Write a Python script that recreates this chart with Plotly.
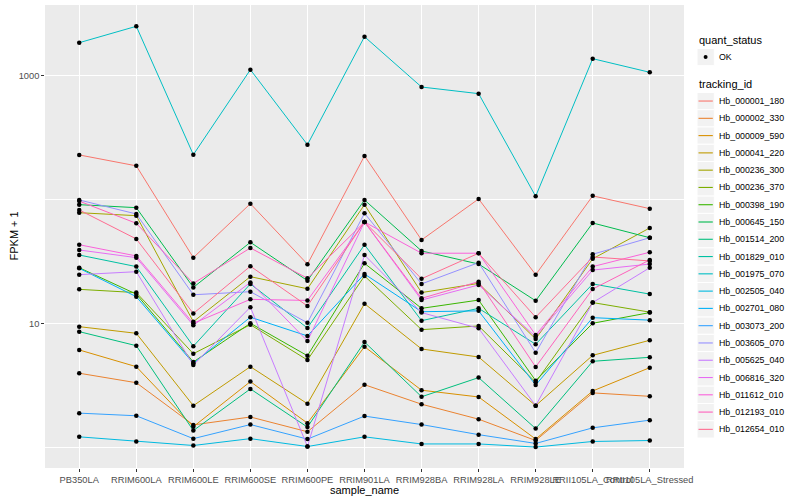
import plotly.graph_objects as go

samples = ["PB350LA", "RRIM600LA", "RRIM600LE", "RRIM600SE", "RRIM600PE", "RRIM901LA",
           "RRIM928BA", "RRIM928LA", "RRIM928LE", "RRII105LA_Control", "RRII105LA_Stressed"]

tracking_ids = ["Hb_000001_180", "Hb_000002_330", "Hb_000009_590", "Hb_000041_220", "Hb_000236_300",
                "Hb_000236_370", "Hb_000398_190", "Hb_000645_150", "Hb_001514_200", "Hb_001829_010",
                "Hb_001975_070", "Hb_002505_040", "Hb_002701_080", "Hb_003073_200", "Hb_003605_070",
                "Hb_005625_040", "Hb_006816_320", "Hb_011612_010", "Hb_012193_010", "Hb_012654_010"]

colors = ["#F8766D", "#EA8331", "#D89000", "#C09B00", "#A3A500", "#7CAE00", "#39B600", "#00BB4E",
          "#00BF7D", "#00C1A3", "#00BFC4", "#00BAE0", "#00B0F6", "#35A2FF", "#9590FF", "#C77CFF",
          "#E76BF3", "#FA62DB", "#FF62BC", "#FF6C91"]

# FPKM + 1 values, one list per tracking_id (order of samples)
hb_000001_180 = [229, 187, 33.9, 92.5, 30.0, 225, 47.1, 101, 24.7, 107, 84.3]
hb_000002_330 = [3.95, 3.31, 1.51, 1.75, 1.33, 3.19, 2.22, 1.68, 1.13, 2.74, 2.57]
hb_000009_590 = [6.09, 4.46, 1.46, 3.38, 1.56, 6.47, 2.88, 2.54, 1.16, 2.84, 4.38]
hb_000041_220 = [9.39, 8.30, 2.16, 4.46, 2.24, 14.4, 6.20, 5.34, 2.16, 5.51, 7.29]
hb_000236_300 = [78.2, 74.0, 10.3, 23.8, 19.0, 90.8, 17.7, 21.0, 7.47, 33.2, 58.9]
hb_000236_370 = [18.8, 17.7, 5.68, 9.74, 5.05, 24.1, 8.88, 9.51, 3.34, 14.7, 12.3]
hb_000398_190 = [28.1, 17.2, 4.87, 10.0, 5.47, 30.5, 13.2, 15.4, 3.44, 10.0, 12.2]
hb_000645_150 = [90.8, 85.9, 19.5, 45.1, 22.1, 99.1, 38.4, 30.1, 15.2, 64.6, 49.1]
hb_001514_200 = [8.56, 6.59, 1.36, 2.95, 1.45, 7.06, 2.55, 3.64, 1.41, 4.93, 5.31]
hb_001829_010 = [35.6, 28.7, 6.52, 20.8, 9.16, 43.1, 10.5, 13.2, 6.77, 20.8, 17.2]
hb_001975_070 = [1847, 2506, 230, 1118, 277, 2065, 810, 716, 106, 1372, 1065]
hb_002505_040 = [1.21, 1.11, 1.03, 1.17, 1.01, 1.21, 1.06, 1.06, 1.0, 1.11, 1.13]
hb_002701_080 = [27.8, 16.4, 4.75, 11.2, 7.90, 25.0, 12.4, 12.6, 3.17, 11.1, 10.6]
hb_003073_200 = [1.88, 1.79, 1.17, 1.52, 1.16, 1.78, 1.52, 1.26, 1.07, 1.43, 1.65]
hb_003605_070 = [99.1, 76.4, 17.0, 18.0, 10.1, 77.4, 20.8, 30.9, 5.79, 36.1, 49.1]
hb_005625_040 = [24.7, 26.1, 4.60, 13.5, 1.01, 35.6, 12.2, 9.11, 2.16, 14.7, 28.1]
hb_006816_320 = [39.1, 33.9, 9.63, 21.4, 7.19, 65.8, 15.4, 20.4, 7.79, 26.9, 30.1]
hb_011612_010 = [43.1, 35.0, 10.0, 15.6, 15.3, 65.8, 36.8, 36.8, 8.04, 28.7, 37.5]
hb_012193_010 = [97.0, 64.2, 21.0, 40.6, 23.1, 65.8, 15.9, 21.7, 4.44, 18.9, 32.5]
hb_012654_010 = [82.3, 48.0, 12.0, 28.9, 13.8, 65.8, 22.9, 36.8, 11.2, 34.3, 31.9]

series_values = [hb_000001_180, hb_000002_330, hb_000009_590, hb_000041_220, hb_000236_300,
                 hb_000236_370, hb_000398_190, hb_000645_150, hb_001514_200, hb_001829_010,
                 hb_001975_070, hb_002505_040, hb_002701_080, hb_003073_200, hb_003605_070,
                 hb_005625_040, hb_006816_320, hb_011612_010, hb_012193_010, hb_012654_010]

FONT = "Liberation Sans, Arial, sans-serif"
W, H = 800, 500
ML, MR, MT, MB = 45, 116, 5, 32
PW, PH = W - ML - MR, H - MT - MB

fig = go.Figure()

for tid, col, vals in zip(tracking_ids, colors, series_values):
    fig.add_trace(go.Scatter(x=samples, y=vals, mode="lines", name=tid,
                             line=dict(color=col, width=1), showlegend=False, hoverinfo="skip"))

all_x, all_y = [], []
for vals in series_values:
    all_x += samples
    all_y += vals
fig.add_trace(go.Scatter(x=all_x, y=all_y, mode="markers", name="OK",
                         marker=dict(color="black", size=4.5), showlegend=False, hoverinfo="skip"))

def xp(px):
    return (px - ML) / PW

def yp(py):
    return (H - MB - py) / PH

shapes, annotations = [], []

# axis titles
annotations.append(dict(text="sample_name", x=xp(364.5), y=yp(490), xref="paper", yref="paper",
                        xanchor="center", yanchor="middle", showarrow=False,
                        font=dict(size=11, color="black", family=FONT)))
annotations.append(dict(text="FPKM + 1", x=xp(13), y=yp(236.5), xref="paper", yref="paper",
                        xanchor="center", yanchor="middle", showarrow=False, textangle=-90,
                        font=dict(size=11, color="black", family=FONT)))

# legend: quant_status
annotations.append(dict(text="quant_status", x=xp(697), y=yp(40), xref="paper", yref="paper",
                        xanchor="left", yanchor="middle", showarrow=False,
                        font=dict(size=11, color="black", family=FONT)))
key_top = 48.4
shapes.append(dict(type="rect", xref="paper", yref="paper", x0=xp(697), x1=xp(714.3),
                   y0=yp(key_top), y1=yp(key_top + 17.28), fillcolor="#F2F2F2",
                   line=dict(color="white", width=1), layer="above"))
shapes.append(dict(type="circle", xref="paper", yref="paper", x0=xp(703.6), x1=xp(707.6),
                   y0=yp(key_top + 8.64 - 2.0), y1=yp(key_top + 8.64 + 2.0), fillcolor="black",
                   line=dict(width=0), layer="above"))
annotations.append(dict(text="OK", x=xp(717), y=yp(key_top + 8.64), xref="paper", yref="paper",
                        xanchor="left", yanchor="middle", showarrow=False,
                        font=dict(size=8.8, color="black", family=FONT)))

# legend: tracking_id
annotations.append(dict(text="tracking_id", x=xp(697), y=yp(84), xref="paper", yref="paper",
                        xanchor="left", yanchor="middle", showarrow=False,
                        font=dict(size=11, color="black", family=FONT)))
top0 = 92.4
for i, (tid, col) in enumerate(zip(tracking_ids, colors)):
    t = top0 + i * 17.28
    c = t + 8.64
    shapes.append(dict(type="rect", xref="paper", yref="paper", x0=xp(697), x1=xp(714.3),
                       y0=yp(t), y1=yp(t + 17.28), fillcolor="#F2F2F2",
                       line=dict(color="white", width=1), layer="above"))
    shapes.append(dict(type="line", xref="paper", yref="paper", x0=xp(698.5), x1=xp(712.8),
                       y0=yp(c), y1=yp(c), line=dict(color=col, width=1.1), layer="above"))
    annotations.append(dict(text=tid, x=xp(717), y=yp(c), xref="paper", yref="paper",
                            xanchor="left", yanchor="middle", showarrow=False,
                            font=dict(size=8.8, color="black", family=FONT)))

fig.update_layout(
    width=W, height=H,
    margin=dict(l=ML, r=MR, t=MT, b=MB, pad=0),
    paper_bgcolor="white",
    plot_bgcolor="#EBEBEB",
    font=dict(family=FONT, color="black"),
    showlegend=False,
    shapes=shapes,
    annotations=annotations,
    xaxis=dict(
        type="category", categoryorder="array", categoryarray=samples,
        range=[-0.6, 10.6], showgrid=True, gridcolor="white", gridwidth=1.07,
        zeroline=False, showline=False, ticks="outside", ticklen=2.75, tickwidth=1,
        tickcolor="#333333", tickangle=0, tickfont=dict(size=9.3, color="#4D4D4D", family=FONT),
        automargin=False,
    ),
    yaxis=dict(
        type="log", range=[-0.169, 3.571],
        tickvals=[10, 1000], ticktext=["10", "1000"],
        showgrid=True, gridcolor="white", gridwidth=1.07,
        minor=dict(tickvals=[1, 100], showgrid=True, gridcolor="white", gridwidth=0.53, ticks=""),
        zeroline=False, showline=False, ticks="outside", ticklen=2.75, tickwidth=1,
        tickcolor="#333333", tickfont=dict(size=9.3, color="#4D4D4D", family=FONT),
        automargin=False,
    ),
)

fig.write_html("out.html", config={"displayModeBar": False},
               post_script="document.body.style.margin='0';document.body.style.overflow='hidden';")
